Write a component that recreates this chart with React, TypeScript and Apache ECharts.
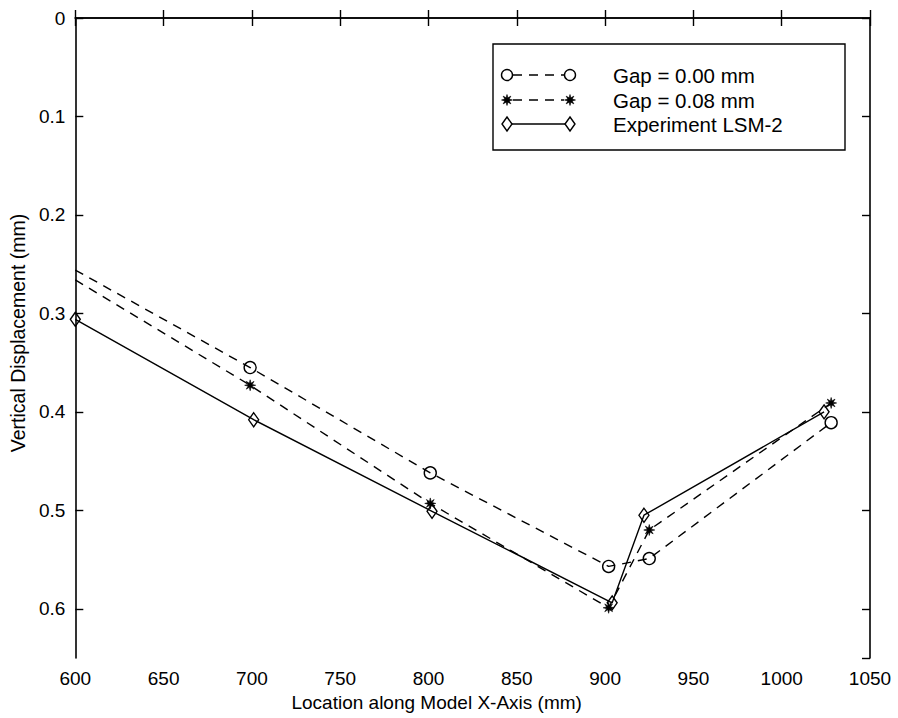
import React, { useEffect, useRef } from "react";
import * as echarts from "echarts";

// ---- data ----
const gap000X = [600, 699, 801, 902, 925, 1028];
const gap000Y = [0.256, 0.355, 0.462, 0.557, 0.549, 0.411];
const gap008X = [600, 699, 801, 902, 925, 1028];
const gap008Y = [0.266, 0.373, 0.493, 0.599, 0.52, 0.391];
const expX = [600, 701, 802, 904, 922, 1024];
const expY = [0.306, 0.408, 0.501, 0.594, 0.505, 0.4];

const seriesNames = ["Gap = 0.00 mm", "Gap = 0.08 mm", "Experiment LSM-2"];
const xTickLabels = ["600", "650", "700", "750", "800", "850", "900", "950", "1000", "1050"];
const yTickLabels = ["0", "0.1", "0.2", "0.3", "0.4", "0.5", "0.6"];

const FONT = "Liberation Sans, Arial, sans-serif";

function starPoints(cx: number, cy: number, n: number, rOut: number, rIn: number): number[][] {
  const pts: number[][] = [];
  for (let i = 0; i < n * 2; i++) {
    const r = i % 2 === 0 ? rOut : rIn;
    const a = (Math.PI * i) / n - Math.PI / 2;
    pts.push([cx + r * Math.cos(a), cy + r * Math.sin(a)]);
  }
  return pts;
}
const starSymbol =
  "path://M" +
  starPoints(10, 10, 8, 10, 4)
    .map((p) => p[0].toFixed(2) + "," + p[1].toFixed(2))
    .join(" L") +
  " Z";

function pairs(xs: number[], ys: number[], hideFirst: boolean) {
  return xs.map((x, i) =>
    hideFirst && i === 0 ? { value: [x, ys[i]], symbol: "none" } : { value: [x, ys[i]] }
  );
}

export default function App() {
  const ref = useRef<HTMLDivElement>(null);
  useEffect(() => {
    if (!ref.current) return;
    const chart = echarts.init(ref.current, undefined, { renderer: "svg" });

    const LX = 493, LY = 44, LW = 352, LH = 106;
    const rows = [75, 100, 124];
    const symL = 507, symR = 570, txtX = 613;
    const legendEls: any[] = [
      {
        type: "rect",
        shape: { x: LX, y: LY, width: LW, height: LH },
        style: { fill: "#fff", stroke: "#000", lineWidth: 1.4 },
        z: 100,
      },
    ];
    // row 1 : circles dashed
    legendEls.push({
      type: "line",
      shape: { x1: symL + 6, y1: rows[0], x2: symR - 6, y2: rows[0] },
      style: { stroke: "#000", lineWidth: 1.4, lineDash: [9, 7] },
      z: 101,
    });
    [symL, symR].forEach((cx) =>
      legendEls.push({
        type: "circle",
        shape: { cx, cy: rows[0], r: 5.5 },
        style: { fill: "none", stroke: "#000", lineWidth: 1.4 },
        z: 101,
      })
    );
    // row 2 : stars dashed
    legendEls.push({
      type: "line",
      shape: { x1: symL + 6, y1: rows[1], x2: symR - 6, y2: rows[1] },
      style: { stroke: "#000", lineWidth: 1.4, lineDash: [9, 7] },
      z: 101,
    });
    [symL, symR].forEach((cx) =>
      legendEls.push({
        type: "polygon",
        shape: { points: starPoints(cx, rows[1], 8, 5.5, 2.4) },
        style: { fill: "#000", stroke: "#000", lineWidth: 0.6 },
        z: 101,
      })
    );
    // row 3 : diamonds solid
    legendEls.push({
      type: "line",
      shape: { x1: symL + 5, y1: rows[2], x2: symR - 5, y2: rows[2] },
      style: { stroke: "#000", lineWidth: 1.4 },
      z: 101,
    });
    [symL, symR].forEach((cx) =>
      legendEls.push({
        type: "polygon",
        shape: {
          points: [
            [cx, rows[2] - 7],
            [cx + 5, rows[2]],
            [cx, rows[2] + 7],
            [cx - 5, rows[2]],
          ],
        },
        style: { fill: "none", stroke: "#000", lineWidth: 1.4 },
        z: 101,
      })
    );
    seriesNames.forEach((name, i) =>
      legendEls.push({
        type: "text",
        x: txtX,
        y: rows[i],
        style: {
          text: name,
          fill: "#000",
          font: `20.5px ${FONT}`,
          verticalAlign: "middle",
        },
        z: 101,
      })
    );

    const axisLine = { show: true, lineStyle: { color: "#000", width: 1.6 } };
    const tick = { show: true, inside: true, length: 8, lineStyle: { color: "#000", width: 1.4 } };

    chart.setOption({
      animation: false,
      backgroundColor: "#fff",
      grid: { left: 73, right: 28, top: 18, bottom: 60 },
      xAxis: [
        {
          type: "value",
          min: 600,
          max: 1050,
          interval: 50,
          name: "Location along Model X-Axis (mm)",
          nameLocation: "middle",
          nameGap: 35,
          nameTextStyle: {
            fontFamily: FONT,
            fontSize: 19,
            color: "#000",
            padding: [0, 72, 0, 0],
          },
          axisLine,
          axisTick: tick,
          splitLine: { show: false },
          axisLabel: {
            fontFamily: FONT,
            fontSize: 19,
            color: "#000",
            margin: 11,
            formatter: (v: number) => xTickLabels[Math.round((v - 600) / 50)] ?? "",
          },
        },
        {
          type: "value",
          position: "top",
          min: 600,
          max: 1050,
          interval: 50,
          axisLine,
          axisTick: tick,
          axisLabel: { show: false },
          splitLine: { show: false },
        },
      ],
      yAxis: [
        {
          type: "value",
          min: 0,
          max: 0.65,
          interval: 0.1,
          inverse: true,
          name: "Vertical Displacement (mm)",
          nameLocation: "middle",
          nameGap: 44,
          nameTextStyle: {
            fontFamily: FONT,
            fontSize: 19.5,
            color: "#000",
            padding: [0, 0, 0, 10],
          },
          axisLine,
          axisTick: tick,
          splitLine: { show: false },
          axisLabel: {
            fontFamily: FONT,
            fontSize: 19,
            color: "#000",
            margin: 10,
            showMaxLabel: false,
            formatter: (v: number) => {
              const i = Math.round(v * 10);
              return Math.abs(v * 10 - i) < 1e-6 ? yTickLabels[i] ?? "" : "";
            },
          },
        },
        {
          type: "value",
          position: "right",
          min: 0,
          max: 0.65,
          interval: 0.1,
          inverse: true,
          axisLine,
          axisTick: tick,
          axisLabel: { show: false },
          splitLine: { show: false },
        },
      ],
      series: [
        {
          name: seriesNames[0],
          type: "line",
          data: pairs(gap000X, gap000Y, true),
          symbol: "circle",
          symbolSize: 12,
          lineStyle: { color: "#000", width: 1.4, type: [9, 7] },
          itemStyle: { color: "rgba(255,255,255,0)", borderColor: "#000", borderWidth: 1.4 },
          z: 3,
        },
        {
          name: seriesNames[1],
          type: "line",
          data: pairs(gap008X, gap008Y, true),
          symbol: starSymbol,
          symbolSize: 11,
          lineStyle: { color: "#000", width: 1.4, type: [9, 7] },
          itemStyle: { color: "#000", borderColor: "#000", borderWidth: 0.6 },
          z: 3,
        },
        {
          name: seriesNames[2],
          type: "line",
          data: pairs(expX, expY, false),
          symbol: "diamond",
          symbolSize: [10, 14],
          lineStyle: { color: "#000", width: 1.4 },
          itemStyle: { color: "rgba(255,255,255,0)", borderColor: "#000", borderWidth: 1.4 },
          z: 3,
        },
      ],
      graphic: legendEls,
    });
    return () => chart.dispose();
  }, []);

  return (
    <div
      ref={ref}
      style={{ position: "fixed", left: 0, top: 0, width: 898, height: 718, background: "#fff" }}
    />
  );
}
